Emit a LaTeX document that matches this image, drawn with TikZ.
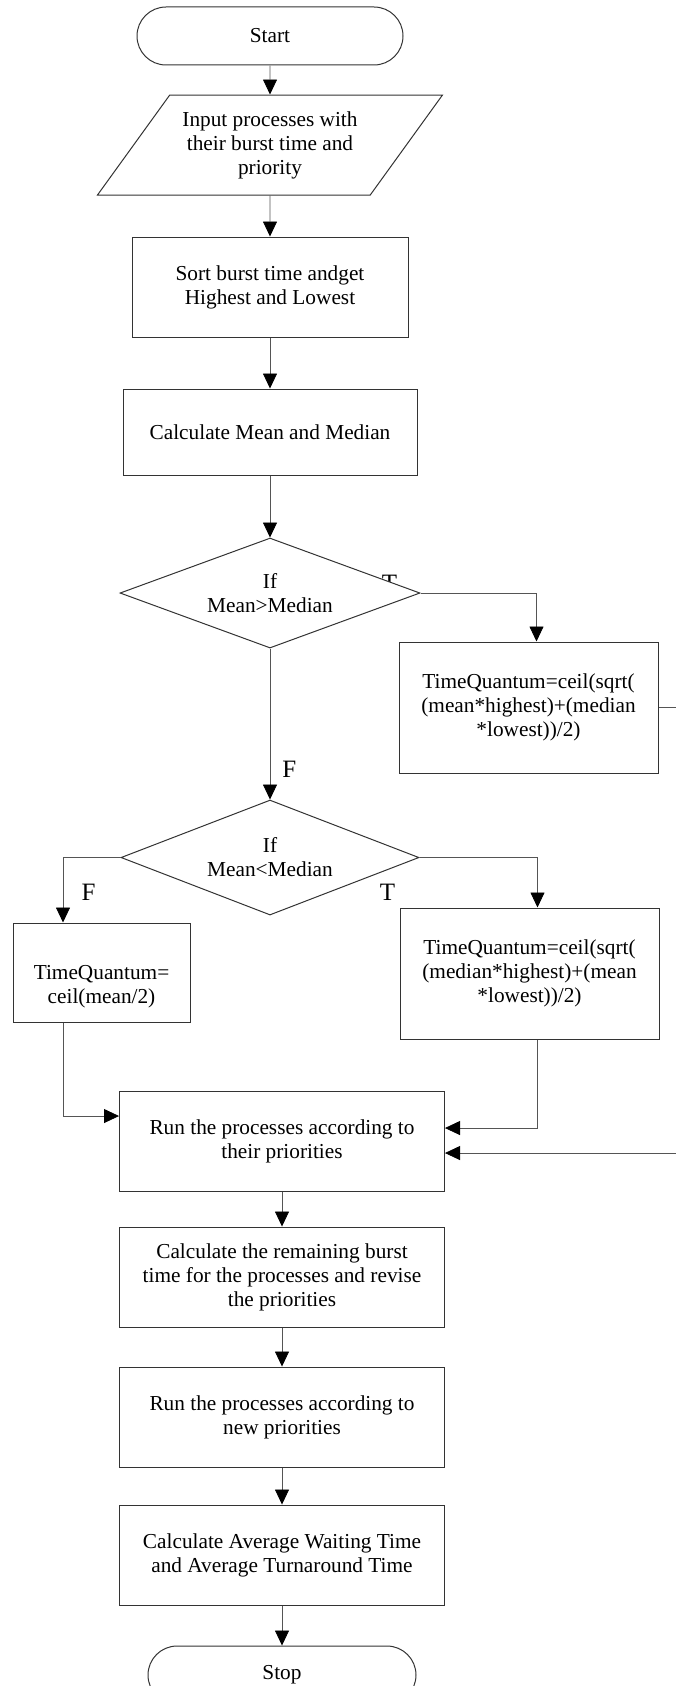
\documentclass[tikz,border=0pt]{standalone}
\usepackage{fontspec}
\setmainfont{Liberation Serif}
\usetikzlibrary{positioning,shapes.geometric,shapes.misc,arrows.meta,calc,backgrounds}
\definecolor{fcline}{HTML}{333333}
\definecolor{fcarrow}{HTML}{555555}
\tikzset{
  term/.style ={rounded rectangle, draw=fcline, line width=1pt, fill=white,
                minimum width=266pt, minimum height=58pt, inner sep=0pt},
  io/.style   ={trapezium, trapezium left angle=43, trapezium right angle=137,
                trapezium stretches body, draw=fcline, line width=1pt, fill=white,
                align=center, minimum width=345pt, minimum height=100pt, inner sep=0pt},
  proc/.style ={rectangle, draw=fcline, line width=1pt, fill=white, align=center,
                minimum height=100pt, inner sep=2pt},
  dec/.style  ={diamond, aspect=2.7, draw=fcline, line width=1pt, fill=white,
                align=center, inner sep=0pt, minimum width=300pt, minimum height=110pt},
  fl/.style   ={-{Triangle[length=15pt,width=14pt,color=black]}, line width=0.8pt, draw=fcarrow},
  tf/.style   ={font=\fontsize{25}{28}\selectfont, inner sep=0pt}
}

\begin{document}
\begin{tikzpicture}[x=1pt, y=-1pt, font=\fontsize{21.3}{24}\selectfont]
  \useasboundingbox (0,0) rectangle (675,1686);

  \node[term] (st) at (270,36) {Start};
  \node[io,below=29pt of st] (inp) {Input processes with\\their burst time and\\priority};
  \node[proc,below=41pt of inp,minimum width=276pt] (srt) {Sort burst time andget\\Highest and Lowest};
  \node[proc,below=51pt of srt,minimum width=294pt,minimum height=86pt] (mm) {Calculate Mean and Median};
  \node[dec,below=62pt of mm] (c1) {If\\Mean>Median};
  \node[dec,below=151pt of c1,minimum width=298pt,minimum height=115pt] (c2) {If\\Mean<Median};

  \node[proc,minimum width=259pt,minimum height=131pt] (q1) at (528.5,707.5) {TimeQuantum=ceil(sqrt(\\(mean*highest)+(median\\*lowest))/2)};
  \node[proc,minimum width=177pt,minimum height=99pt] (qf) at (101.5,972.5) {\rule{0pt}{43pt}TimeQuantum=\\ceil(mean/2)};
  \node[proc,minimum width=259pt,minimum height=131pt] (q2) at (529.5,973.5) {TimeQuantum=ceil(sqrt(\\(median*highest)+(mean\\*lowest))/2)};

  \node[proc,below=175pt of c2,xshift=12pt,minimum width=325pt] (run) {Run the processes according to\\their priorities};
  \node[proc,below=35pt of run,minimum width=325pt] (rem) {Calculate the remaining burst\\time for the processes and revise\\the priorities};
  \node[proc,below=39pt of rem,minimum width=325pt] (rnew) {Run the processes according to\\new priorities};
  \node[proc,below=37pt of rnew,minimum width=325pt] (avg) {Calculate Average Waiting Time\\and Average Turnaround Time};
  \node[term,below=40pt of avg,minimum width=268pt] (sp) {Stop};

  \draw[fl] (st)--(inp); \draw[fl] (inp)--(srt); \draw[fl] (srt)--(mm);
  \draw[fl] (mm)--(c1);
  \draw[fl] (c1)--(c2) node[tf,pos=.8,right=12pt] {F};
  \draw[fl] (c1.east) -| ([xshift=8pt]q1.north);
  \draw[fl] (c2.east) -| ([xshift=8pt]q2.north);
  \draw[fl] (c2.west) -| ([xshift=-38.5pt]qf.north);
  \draw[fl] ([xshift=-38.5pt]qf.south) |- ([yshift=25pt]run.west);
  \draw[fl] ([xshift=8pt]q2.south) |- ([yshift=13pt]run.east);
  \draw[fl] (q1.east) -- ++(40,0) |- ([yshift=-12pt]run.east);
  \draw[fl] (run)--(rem); \draw[fl] (rem)--(rnew); \draw[fl] (rnew)--(avg);
  \draw[fl] (avg)--(sp);

  \begin{scope}[on background layer]
    \node[tf] at ($(c1.east)+(-31,-10)$) {T};
  \end{scope}
  \node[tf] at ($(c2.east)+(-32,35)$) {T};
  \node[tf] at ($(c2.west)+(-32,35)$) {F};
\end{tikzpicture}
\end{document}
